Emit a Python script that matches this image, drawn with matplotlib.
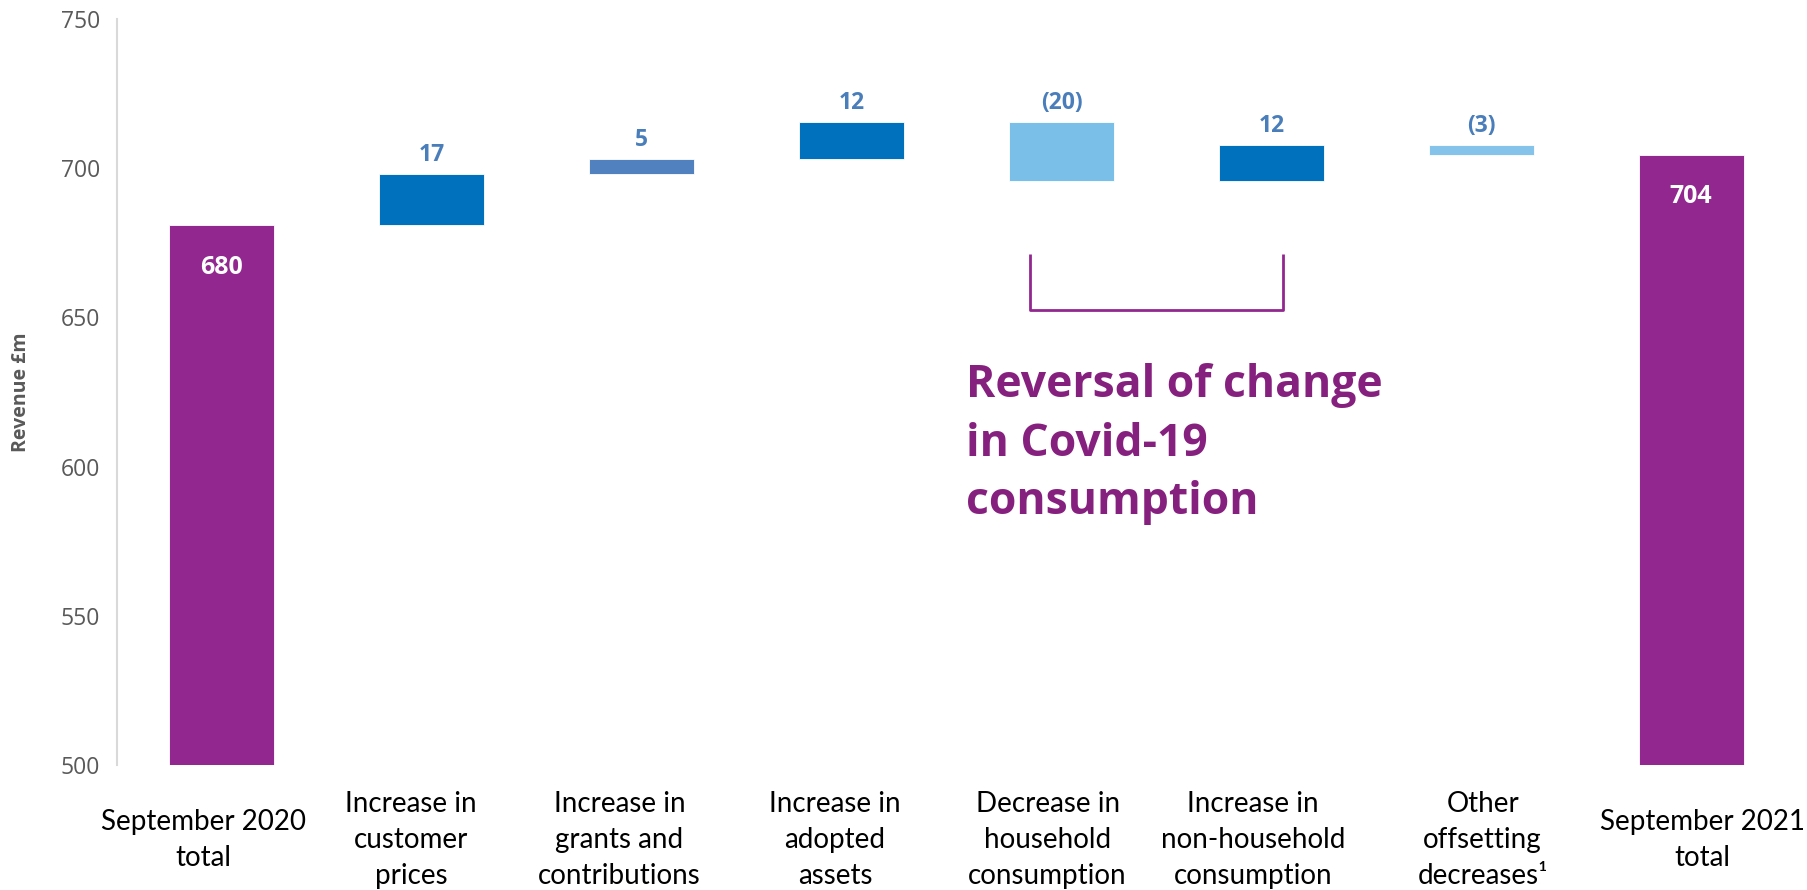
import numpy as np
import matplotlib
matplotlib.use("Agg")
import matplotlib.pyplot as plt

# data
categories = ["September 2020\ntotal", "Increase in\ncustomer\nprices",
              "Increase in\ngrants and\ncontributions", "Increase in\nadopted\nassets",
              "Decrease in\nhousehold\nconsumption", "Increase in\nnon-household\nconsumption",
              "Other\noffsetting\ndecreases\u00b9", "September 2021\ntotal"]
start_total = 680.8
changes = [17.2, 5.0, 12.4, -19.6, 11.9, -3.2]
value_labels = ["680", "17", "5", "12", "(20)", "12", "(3)", "704"]

purple = "#92278F"
bar_colors = [purple, "#0071BC", "#5182BF", "#0071BC", "#7ABFE8", "#0071BC", "#85C3EA", purple]
# horizontal nudge of the category labels (points), as in the original slide
label_shift = [-13, -15, -16, -12, -10, -13, 1, 8]

plt.rcParams["font.family"] = ["Open Sans", "DejaVu Sans"]

fig = plt.figure(figsize=(18.08, 8.9), dpi=100)
ax = fig.add_axes([0.0647, 0.1404, 0.9287, 0.8383])

# waterfall bottoms / heights
levels = start_total + np.cumsum([0] + changes)
end_total = levels[-1]
bottoms = [500]
heights = [start_total - 500]
for i, c in enumerate(changes):
    bottoms.append(min(levels[i], levels[i + 1]))
    heights.append(abs(c))
bottoms.append(500)
heights.append(end_total - 500)

x = np.arange(len(categories))
bars = ax.bar(x, heights, bottom=bottoms, width=0.5, color=bar_colors,
              edgecolor="white", linewidth=0.6, zorder=2)

for i, b in enumerate(bars):
    top = b.get_y() + b.get_height()
    if i in (0, len(bars) - 1):
        ax.annotate(value_labels[i], (b.get_x() + b.get_width() / 2, top),
                    xytext=(0, -30), textcoords="offset points",
                    ha="center", va="center", color="white",
                    fontsize=18, fontweight="bold")
    else:
        ax.annotate(value_labels[i], (b.get_x() + b.get_width() / 2, top),
                    xytext=(0, 5), textcoords="offset points",
                    ha="center", va="bottom", color="#4A7EBB",
                    fontsize=16.5, fontweight="bold")

# bracket around the covid bars
ax.plot([3.85, 3.85, 5.055, 5.055], [671.2, 652.5, 652.5, 671.2],
        color=purple, lw=2, solid_capstyle="butt", zorder=3)
ax.text(3.545, 607.5, "Reversal of change\nin Covid-19\nconsumption",
        color="#86207F", fontsize=32, fontweight="bold", ha="left", va="center",
        linespacing=1.4)

ax.set_xlim(-0.5, 7.5)
ax.set_ylim(500, 750)
ax.set_yticks([500, 550, 600, 650, 700, 750])
ax.tick_params(axis="y", length=0, labelsize=16.5, labelcolor="#595959", pad=12)
ax.set_xticks(x)
ax.set_xticklabels([])
ax.tick_params(axis="x", length=0)

# category labels under the bars
for i, lab in enumerate(categories):
    ax.annotate(lab, (x[i], 0), xycoords=ax.get_xaxis_transform(),
                xytext=(label_shift[i], -54), textcoords="offset points",
                ha="center", va="center", fontsize=20, linespacing=1.47,
                family=["Lato", "DejaVu Sans"], color="black")

for s in ["top", "right", "bottom"]:
    ax.spines[s].set_visible(False)
ax.spines["left"].set_color("#D9D9D9")
ax.spines["left"].set_linewidth(1.5)

ax.set_ylabel("Revenue \u00a3m", fontsize=14, fontweight="bold", color="#595959")
ax.yaxis.set_label_coords(-0.051, 0.5)

fig.savefig("out.png", dpi=100)
